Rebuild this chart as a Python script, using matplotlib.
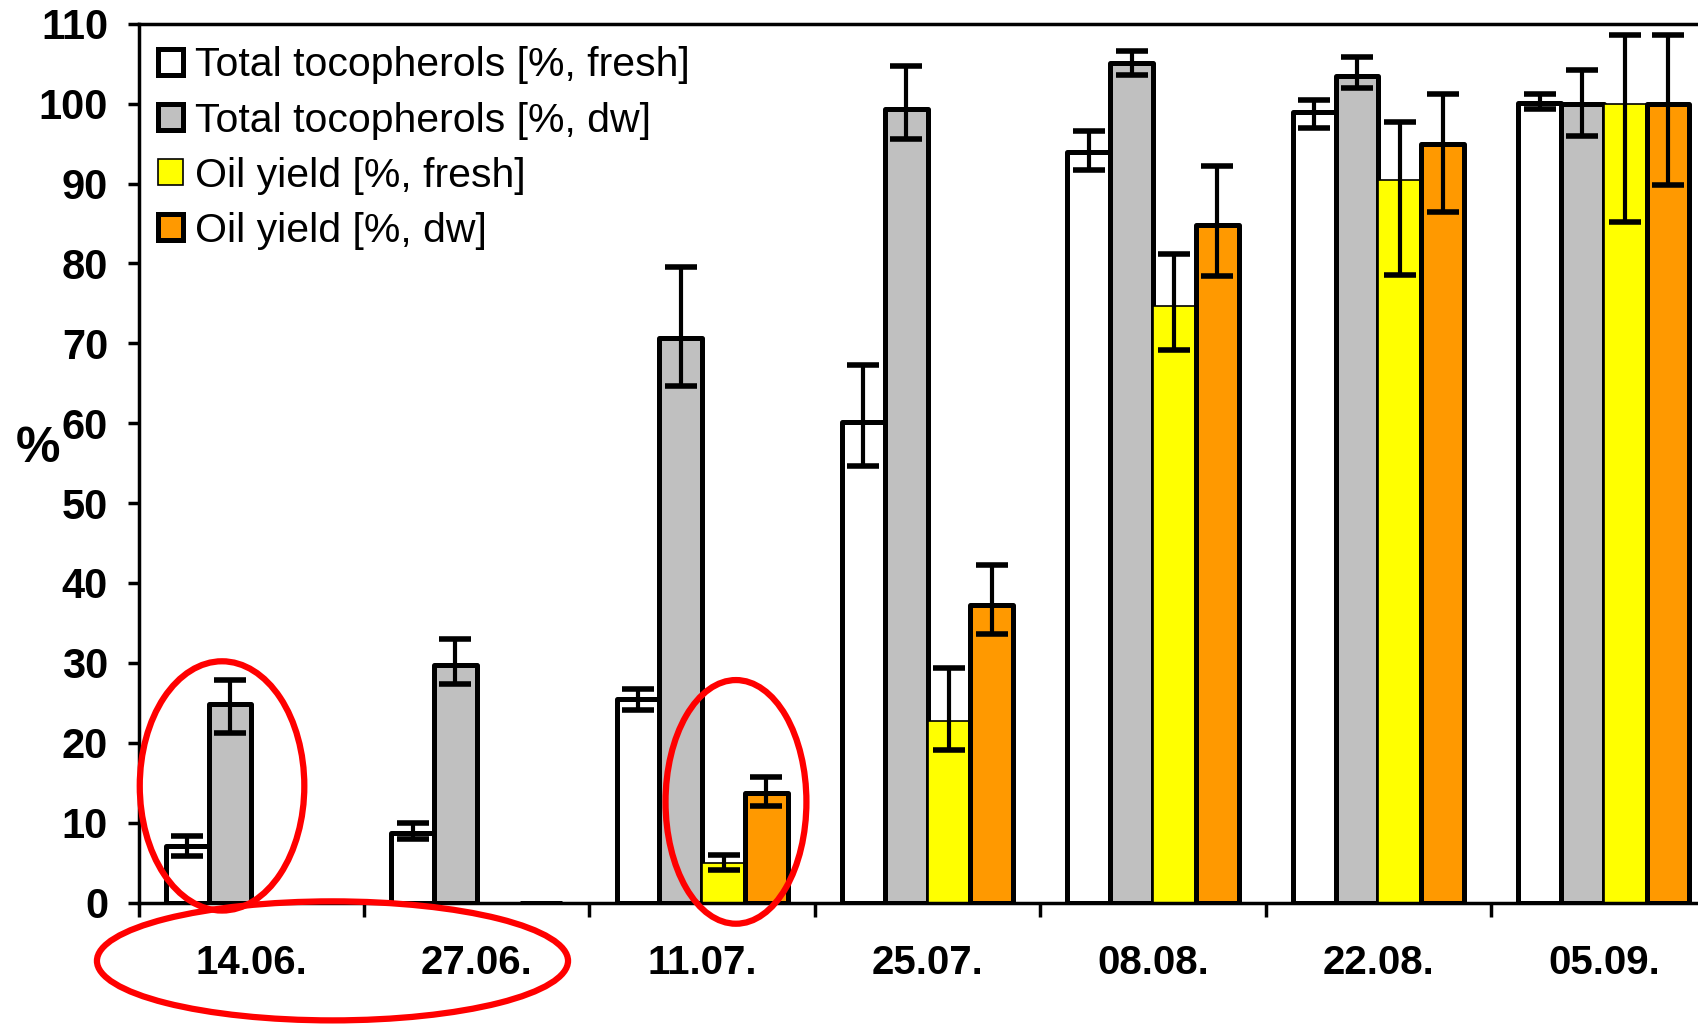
import numpy as np
import matplotlib
matplotlib.use("Agg")
import matplotlib.pyplot as plt
from matplotlib.patches import Ellipse

plt.rcParams['font.family'] = ['Liberation Sans', 'DejaVu Sans']

dates = ["14.06.", "27.06.", "11.07.", "25.07.", "08.08.", "22.08.", "05.09."]

toc_fresh = [7.1, 8.7, 25.5, 60.2, 93.9, 99.0, 100.1]
toc_fresh_up = [1.2, 1.2, 1.2, 7.1, 2.7, 1.4, 1.1]
toc_fresh_dn = [1.3, 0.8, 1.4, 5.5, 2.2, 2.0, 0.8]

toc_dw = [24.8, 29.7, 70.7, 99.3, 105.1, 103.5, 100.0]
toc_dw_up = [3.0, 3.3, 8.8, 5.4, 1.5, 2.4, 4.2]
toc_dw_dn = [3.6, 2.4, 6.1, 3.7, 1.5, 1.6, 4.0]

oil_fresh = [0, 0, 4.9, 22.7, 74.7, 90.5, 100.0]
oil_fresh_up = [0, 0, 1.1, 6.7, 6.5, 7.2, 8.6]
oil_fresh_dn = [0, 0, 0.8, 3.6, 5.5, 12.0, 14.8]

oil_dw = [0, 0, 13.7, 37.2, 84.8, 94.9, 100.0]
oil_dw_up = [0, 0, 2.0, 5.1, 7.4, 6.3, 8.6]
oil_dw_dn = [0, 0, 1.6, 3.6, 6.4, 8.5, 10.2]

labels = ["Total tocopherols [%, fresh]", "Total tocopherols [%, dw]",
          "Oil yield [%, fresh]", "Oil yield [%, dw]"]
colors = ["#FFFFFF", "#C0C0C0", "#FFFF00", "#FF9900"]
edge_w = [3.6, 3.6, 1.2, 3.6]

series = [(toc_fresh, toc_fresh_dn, toc_fresh_up),
          (toc_dw, toc_dw_dn, toc_dw_up),
          (oil_fresh, oil_fresh_dn, oil_fresh_up),
          (oil_dw, oil_dw_dn, oil_dw_up)]

fig = plt.figure(figsize=(16.99, 10.24), dpi=100)
ax = fig.add_axes([0.0816, 0.1186, 0.9287, 0.8582])

x = np.arange(len(dates))
w = 0.19
for i, (vals, dn, up) in enumerate(series):
    pos = x + (i - 1.5) * w
    ax.bar(pos, vals, w, color=colors[i], edgecolor="black", linewidth=edge_w[i],
           label=labels[i], zorder=2, joinstyle="round")
for i, (vals, dn, up) in enumerate(series):
    pos = x + (i - 1.5) * w
    vals = np.array(vals, dtype=float)
    m = vals > 0
    ax.errorbar(pos[m], vals[m], yerr=[np.array(dn)[m], np.array(up)[m]], fmt="none",
                ecolor="black", elinewidth=3, capsize=11.5, capthick=4, zorder=4)

ax.set_xlim(-0.5, len(dates) - 0.5)
ax.set_ylim(0, 110)
ax.set_yticks(np.arange(0, 111, 10))
ax.set_xticks(x)
ax.set_xticklabels(dates, fontsize=29, fontweight="bold")
ax.set_xticks(np.arange(-0.5, len(dates), 1), minor=True)
ax.tick_params(axis="x", which="major", length=0, pad=30)
ax.tick_params(axis="x", which="minor", length=10, width=2.5, direction="out")
ax.tick_params(axis="y", length=8, width=2.5, direction="out", pad=14, labelsize=30)
for t in ax.get_yticklabels():
    t.set_fontweight("bold")
ax.set_ylabel("%", fontsize=36, fontweight="bold", rotation=0, labelpad=4)
ax.yaxis.set_label_coords(-0.064, 0.49)

for s in ["left", "bottom", "top", "right"]:
    ax.spines[s].set_linewidth(2.5)

leg = ax.legend(loc="upper left", bbox_to_anchor=(0.002, 0.993), frameon=False,
                fontsize=29.5, handlelength=0.6, handleheight=0.6, handletextpad=0.3,
                labelspacing=0.42, borderaxespad=0.2, borderpad=0.2)

# red highlight ellipses
ell_specs = [(-0.13, 14.6, 0.73, 31.2), (2.15, 12.6, 0.625, 30.5), (0.36, -7.3, 2.09, 14.9)]
for cx, cy, ew, eh in ell_specs:
    e = Ellipse((cx, cy), ew, eh, fill=False, edgecolor="#FF0000", linewidth=4.5,
                zorder=6, clip_on=False)
    ax.add_patch(e)

fig.savefig("out.png", dpi=100)
